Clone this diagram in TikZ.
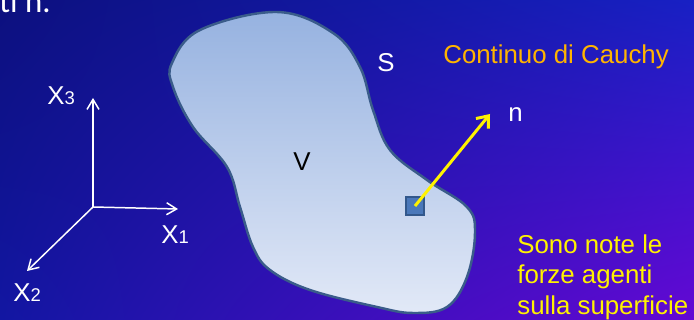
\documentclass[tikz,border=0pt]{standalone}
\usepackage{fontspec}
\setmainfont{Liberation Sans}
\newfontfamily\slidefont{Carlito}
\usetikzlibrary{arrows.meta,shadings}
\definecolor{bgtl}{RGB}{12,16,126}
\definecolor{bgtr}{RGB}{24,32,196}
\definecolor{bgbl}{RGB}{18,22,162}
\definecolor{bgbr}{RGB}{100,8,212}
\definecolor{bodytop}{RGB}{150,178,224}
\definecolor{bodybot}{RGB}{226,233,247}
\definecolor{bodyline}{RGB}{58,92,138}
\definecolor{elemfill}{RGB}{74,120,186}
\definecolor{elemline}{RGB}{50,88,140}
\definecolor{cauchy}{RGB}{255,180,0}
\tikzset{
  lab/.style={font=\fontsize{14.7}{17.6}\selectfont,inner sep=0pt},
  whitelab/.style={lab,text=white},
  note/.style={lab,text=yellow,align=left},
  axis/.style={white,line width=0.85pt,-{Straight Barb[length=2mm,width=2.4mm]}},
  normal/.style={yellow,line width=1.7pt,-{Straight Barb[length=2mm,width=3.2mm]}},
  body/.style={draw=bodyline,line width=1.4pt,top color=bodytop,bottom color=bodybot},
  elem/.style={rectangle,draw=elemline,fill=elemfill,line width=1.1pt,
    minimum size=0.35cm,inner sep=0pt}
}
\newcommand{\axname}[1]{X{\fontsize{10.5}{11}\selectfont #1}}

\begin{document}
\begin{tikzpicture}[x=0.02cm,y=-0.02cm]
% ---------- background ----------
\clip (0,0) rectangle (694,320);
\shade[upper left=bgtl,upper right=bgtr,lower left=bgbl,lower right=bgbr]
  (0,0) rectangle (694,320);
\node[anchor=base west,inner sep=0pt,text=white,font=\slidefont\fontsize{18.7}{20}\selectfont]
  (prev) at (-1,13) {ti n.};
% ---------- body V with surface S ----------
\draw[body] plot[smooth cycle,tension=0.62] coordinates {
  (172,63) (200,30) (277,12) (333,33) (360,67) (373,110) (390,150)
  (427,180) (467,207) (475,233) (467,277) (447,307) (413,313)
  (377,307) (310,290) (270,270) (253,247) (240,207) (227,167)
  (193,127) (173,87)};
\node[lab,anchor=base west] (V) at (293,171) {V};
\node[whitelab,anchor=base west] (S) at (377,72) {S};
% ---------- element and normal ----------
\node[elem] (elem) at (415,206) {};
\coordinate (ntip) at (490,114);
\draw[normal] (elem.center) -- (ntip);
\node[whitelab,anchor=base west] (n) at (508,122) {n};
% ---------- axes ----------
\coordinate (O) at (93,207);
\coordinate (e1) at (178,209);
\coordinate (e2) at (27,271);
\coordinate (e3) at (93,98);
\draw[axis] (O) -- (e1);
\draw[axis] (O) -- (e2);
\draw[axis] (O) -- (e3);
\node[whitelab,anchor=base west] (x1) at (161,244) {\axname{1}};
\node[whitelab,anchor=base west] (x2) at (13,302) {\axname{2}};
\node[whitelab,anchor=base west] (x3) at (47,105) {\axname{3}};
% ---------- texts ----------
\node[lab,text=cauchy,anchor=base west] (title) at (443,64) {Continuo di Cauchy};
\node[note,anchor=north west] (forces) at (517,234)
  {Sono note le\\forze agenti\\sulla superficie};
\end{tikzpicture}
\end{document}
